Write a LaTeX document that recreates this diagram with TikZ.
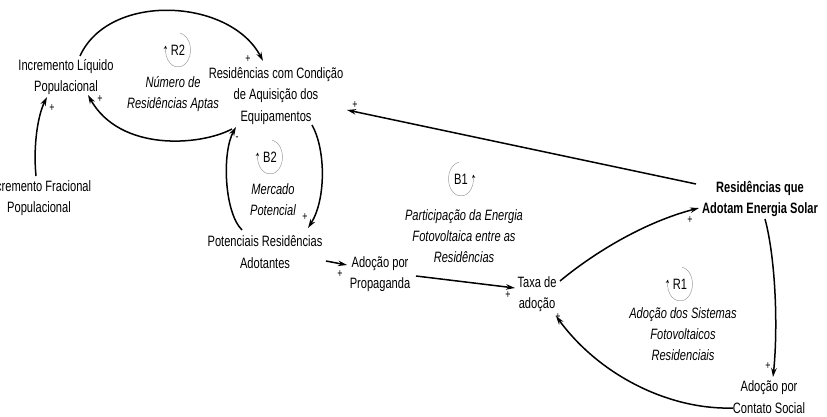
\documentclass[tikz,border=0pt]{standalone}
\usepackage{fontspec}
\setmainfont{Liberation Sans}[FakeStretch=0.74]
\usetikzlibrary{arrows.meta,calc}

\begin{document}
\begin{tikzpicture}[x=1pt,y=1pt,
  var/.style={align=center,inner sep=0pt,font=\fontsize{15}{21.5}\selectfont},
  stock/.style={var,font=\fontsize{15}{21.5}\selectfont\bfseries},
  loopname/.style={var,font=\fontsize{15}{21}\selectfont\itshape},
  looptag/.style={inner sep=0pt,font=\fontsize{15}{15}\selectfont},
  sign/.style={inner sep=0pt,font=\fontsize{12}{12}\selectfont},
  link/.style={line width=1.5pt,-{Stealth[length=9pt,width=5.5pt]}},
  cwloop/.style={draw=gray!75,line width=0.5pt,-{Stealth[length=3.5pt,width=3pt,black]}},
]
\useasboundingbox (0,0) rectangle (827,-417);
\clip (0,0) rectangle (827,-417);

% variables
\node[var] (incliq) at (66,-77) {Incremento Líquido\\Populacional};
\node[var] (incfrac) at (39,-198) {Incremento Fracional\\Populacional};
\node[var] (rescond) at (276,-96) {Residências com Condição\\de Aquisição dos\\Equipamentos};
\node[var] (potenc) at (265,-252) {Potenciais Residências\\Adotantes};
\node[var] (propag) at (380,-274) {Adoção por\\Propaganda};
\node[var] (taxa) at (537,-294) {Taxa de\\adoção};
\node[stock] (resadot) at (760,-199) {Residências que\\Adotam Energia Solar};
\node[var] (contato) at (769,-397) {Adoção por\\Contato Social};

% loop names
\node[loopname] (nraptas) at (173,-94) {Número de\\Residências Aptas};
\node[loopname] (mercado) at (273,-200) {Mercado\\Potencial};
\node[loopname] (particip) at (464,-236) {Participação da Energia\\Fotovoltaica entre as\\Residências};
\node[loopname] (adsis) at (683,-334) {Adoção dos Sistemas\\Fotovoltaicos\\Residenciais};

% loop identifiers
\node[looptag] (r2) at (178,-50) {R2};
\node[looptag] (b2) at (270,-157) {B2};
\node[looptag] (b1) at (461,-179) {B1};
\node[looptag] (r1) at (680,-284) {R1};
\draw[cwloop] ($(r2)+(80:12.5 and 17)$) arc[start angle=80,end angle=-195,x radius=12.5,y radius=17];
\draw[cwloop] ($(b2)+(80:12.5 and 17)$) arc[start angle=80,end angle=-195,x radius=12.5,y radius=17];
\draw[cwloop] ($(r1)+(80:12.5 and 17)$) arc[start angle=80,end angle=-195,x radius=12.5,y radius=17];
\draw[cwloop] ($(b1)+(100:12.5 and 17)$) arc[start angle=100,end angle=375,x radius=12.5,y radius=17];

% causal links
\draw[link] ($(incliq)+(14,21)$) .. controls (109,8) and (230,2) .. ($(rescond)+(-13,35)$);
\draw[link] ($(rescond)+(-44,-33)$) .. controls (200,-146) and (120,-152) .. ($(incliq)+(22,-18)$);
\draw[link] ($(incfrac)+(-3,22)$) .. controls (33,-145) and (38,-115) .. ($(incliq)+(-19,-20)$);
\draw[link] ($(potenc)+(-23,22)$) .. controls (224,-212) and (222,-152) .. ($(rescond)+(-40,-31)$);
\draw[link] ($(rescond)+(36,-29)$) .. controls (326,-150) and (326,-200) .. ($(potenc)+(43,24)$);
\draw[link] ($(potenc)+(61,-9)$) -- ($(propag)+(-33,9)$);
\draw[link] ($(propag)+(36,-2)$) -- ($(taxa)+(-22,6)$);
\draw[link] ($(taxa)+(23,13)$) .. controls (595,-252) and (645,-222) .. ($(resadot)+(-61,-9)$);
\draw[link] ($(resadot)+(-64,15)$) -- ($(rescond)+(71,-14)$);
\draw[link] ($(resadot)+(5,-20)$) .. controls (776,-260) and (778,-330) .. ($(contato)+(4,20)$);
\draw[link] ($(contato)+(-36,-11)$) .. controls (670,-410) and (600,-376) .. ($(taxa)+(19,-22)$);

% polarities
\node[sign] (p1) at (248,-59) {+};
\node[sign] (p2) at (100,-99) {+};
\node[sign] (p3) at (52,-108) {+};
\node[sign] (p4) at (237,-139) {-};
\node[sign] (p5) at (305,-217) {+};
\node[sign] (p6) at (340,-274) {+};
\node[sign] (p7) at (508,-295) {+};
\node[sign] (p8) at (690,-220) {+};
\node[sign] (p9) at (355,-105) {+};
\node[sign] (p10) at (768,-366) {+};
\node[sign] (p11) at (558,-317) {+};
\end{tikzpicture}
\end{document}
